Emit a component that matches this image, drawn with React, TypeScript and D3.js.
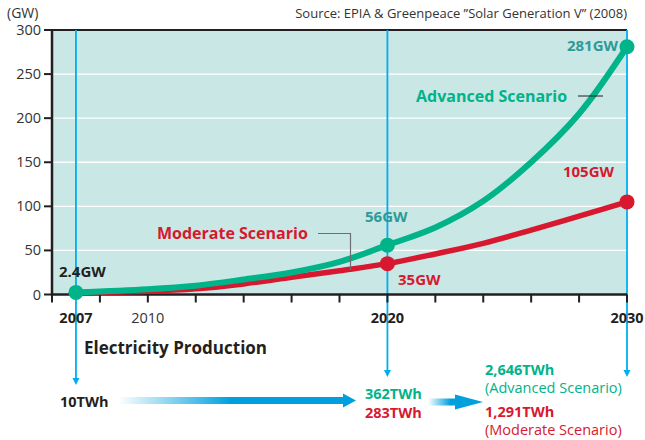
import React from 'react';
import * as d3 from 'd3';

// data
const years = [2007, 2010, 2012, 2014, 2016, 2018, 2020, 2022, 2024, 2026, 2028, 2030];
const advanced = [2.4, 6, 10, 17, 25, 37, 56, 76, 106, 150, 205, 281];
const moderate = [2.4, 3.8, 6.5, 12, 19.5, 27, 35, 46, 58, 73, 89, 105];
const yTicks = [0, 50, 100, 150, 200, 250, 300];
const xTicks = [2006, 2008, 2010, 2012, 2014, 2016, 2018, 2020, 2022, 2024, 2026, 2028, 2030];
const xLabels = [
  { year: 2007, text: '2007', bold: true },
  { year: 2010, text: '2010', bold: false },
  { year: 2020, text: '2020', bold: true },
  { year: 2030, text: '2030', bold: true },
];
const markYears = [2007, 2020, 2030];

const GREEN = '#00b388';
const RED = '#d7182f';
const TEAL = '#2e9a96';
const BLUE = '#00aeef';
const ARROW = '#00a0df';
const DARK = '#231f20';
const FONT = '"Open Sans", "Noto Sans", sans-serif';

const width = 645;
const height = 440;

export default function App() {
  const x = d3.scaleLinear().domain([2006, 2030]).range([52, 627]);
  const y = d3.scaleLinear().domain([0, 300]).range([294.5, 30]);

  const line = d3.line<number>()
    .x((d, i) => x(years[i]))
    .y(d => y(d))
    .curve(d3.curveCatmullRom.alpha(0.5));

  const valAt = (arr: number[], yr: number) => arr[years.indexOf(yr)];

  return (
    <svg width={width} height={height} style={{ position: 'absolute', left: 0, top: 0, fontFamily: FONT }}>
      <defs>
        <linearGradient id="g1" x1="0" x2="1" y1="0" y2="0">
          <stop offset="0" stopColor="#fff" />
          <stop offset="0.5" stopColor={ARROW} />
          <stop offset="1" stopColor={ARROW} />
        </linearGradient>
        <linearGradient id="g2" x1="0" x2="1" y1="0" y2="0">
          <stop offset="0" stopColor="#fff" />
          <stop offset="0.8" stopColor={ARROW} />
          <stop offset="1" stopColor={ARROW} />
        </linearGradient>
      </defs>
      <rect x={0} y={0} width={width} height={height} fill="#fff" />

      {/* plot area */}
      <rect x={x(2006)} y={y(300)} width={x(2030) - x(2006)} height={y(0) - y(300)} fill="#c9e7e5" />
      {yTicks.slice(1, -1).map(t => (
        <line key={t} x1={x(2006)} x2={x(2030)} y1={y(t)} y2={y(t)} stroke="#fff" strokeWidth={1.3} />
      ))}
      <line x1={x(2006)} x2={x(2030)} y1={y(300)} y2={y(300)} stroke={DARK} strokeWidth={2} />

      {/* blue year guides */}
      {[{ yr: 2007, end: 385 }, { yr: 2020, end: 377 }, { yr: 2030, end: 377 }].map(g => (
        <g key={g.yr}>
          <line x1={x(g.yr)} x2={x(g.yr)} y1={y(300)} y2={g.end - 6} stroke={BLUE} strokeWidth={1.8} />
          <path d={`M${x(g.yr) - 3.5},${g.end - 7} L${x(g.yr) + 3.5},${g.end - 7} L${x(g.yr)},${g.end} Z`} fill={BLUE} />
        </g>
      ))}

      {/* axes */}
      <line x1={x(2006)} x2={x(2006)} y1={y(300) - 1} y2={y(0) + 1} stroke={DARK} strokeWidth={2.5} />
      <line x1={x(2006) - 1} x2={x(2030)} y1={y(0)} y2={y(0)} stroke={DARK} strokeWidth={2.5} />
      {yTicks.map(t => (
        <g key={t}>
          <line x1={x(2006) - 8} x2={x(2006)} y1={y(t)} y2={y(t)} stroke={DARK} strokeWidth={2} />
          <text x={41} y={y(t) + 5} textAnchor="end" fontSize={14.5} fill="#333">{t}</text>
        </g>
      ))}
      {xTicks.map(t => (
        <line key={t} x1={x(t)} x2={x(t)} y1={y(0)} y2={y(0) + 8} stroke={DARK} strokeWidth={2} />
      ))}
      {xLabels.map(l => (
        <text key={l.year} x={x(l.year)} y={323} textAnchor="middle" fontSize={14.5}
          fontWeight={l.bold ? 700 : 400} fill={l.bold ? DARK : '#333'}>{l.text}</text>
      ))}
      <text x={7} y={18} fontSize={14} fill="#333">(GW)</text>
      <text x={627} y={18} textAnchor="end" fontSize={13} fill="#333">Source: EPIA &amp; Greenpeace ”Solar Generation V” (2008)</text>

      {/* series */}
      <path d={line(moderate) || ''} fill="none" stroke={RED} strokeWidth={5.5} />
      <path d={line(advanced) || ''} fill="none" stroke={GREEN} strokeWidth={6} />
      {markYears.slice(1).map(yr => (
        <circle key={'m' + yr} cx={x(yr)} cy={y(valAt(moderate, yr))} r={7.5} fill={RED} />
      ))}
      {markYears.map(yr => (
        <circle key={'a' + yr} cx={x(yr)} cy={y(valAt(advanced, yr))} r={7.5} fill={GREEN} />
      ))}

      {/* value labels */}
      <text x={59} y={277} fontSize={15} fontWeight={700} fill={DARK}>2.4GW</text>
      <text x={365} y={222} fontSize={15} fontWeight={700} fill={TEAL}>56GW</text>
      <text x={398} y={285} fontSize={15} fontWeight={700} fill={RED}>35GW</text>
      <text x={618} y={51} textAnchor="end" fontSize={15} fontWeight={700} fill={TEAL}>281GW</text>
      <text x={614} y={177} textAnchor="end" fontSize={15} fontWeight={700} fill={RED}>105GW</text>

      {/* series names */}
      <text x={416} y={102} fontSize={16} fontWeight={700} fill={GREEN}>Advanced Scenario</text>
      <line x1={578} x2={603} y1={96} y2={96} stroke={DARK} strokeWidth={1} />
      <text x={157} y={239} fontSize={16} fontWeight={700} fill={RED}>Moderate Scenario</text>
      <path d="M318,233.5 L350.5,233.5 L350.5,270" fill="none" stroke="#6d6e71" strokeWidth={1.2} />

      {/* electricity production */}
      <text x={84} y={354} fontSize={17} fontWeight={700} fill={DARK}>Electricity Production</text>
      <text x={60} y={407} fontSize={14.5} fontWeight={700} fill={DARK}>10TWh</text>
      <rect x={118} y={397} width={226} height={7} fill="url(#g1)" />
      <path d="M343,393.5 L356,400.5 L343,407.5 Z" fill={ARROW} />
      <text x={365} y={399} fontSize={14.5} fontWeight={700} fill={GREEN}>362TWh</text>
      <text x={365} y={418} fontSize={14.5} fontWeight={700} fill={RED}>283TWh</text>
      <rect x={428} y={398.5} width={28} height={7} fill="url(#g2)" />
      <path d="M455,394.5 L483,402 L455,409.5 Z" fill={ARROW} />
      <text x={485} y={375} fontSize={14.5} fontWeight={700} fill={GREEN}>2,646TWh</text>
      <text x={485} y={393} fontSize={14.5} fill={GREEN}>(Advanced Scenario)</text>
      <text x={485} y={417} fontSize={14.5} fontWeight={700} fill={RED}>1,291TWh</text>
      <text x={485} y={435} fontSize={14.5} fill={RED}>(Moderate Scenario)</text>
    </svg>
  );
}
